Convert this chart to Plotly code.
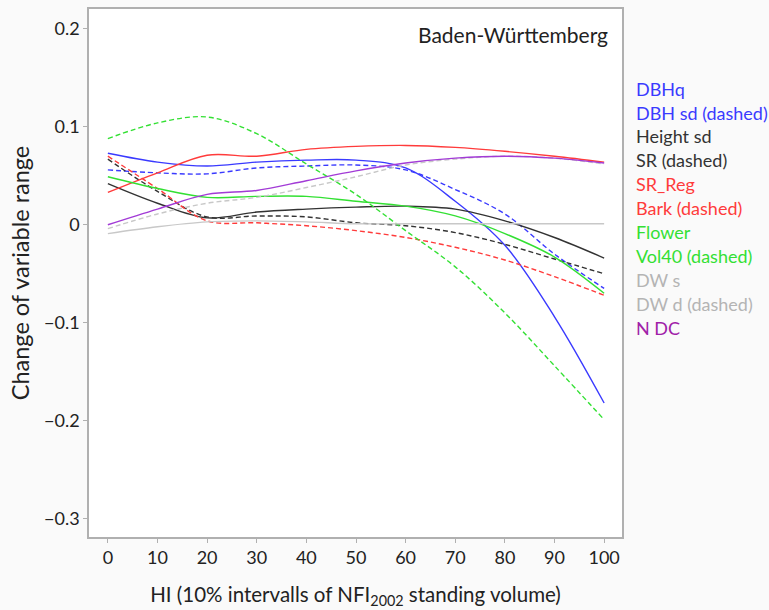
import plotly.graph_objects as go

hi = [0, 10, 20, 30, 40, 50, 60, 70, 80, 90, 100]

dbhq      = [0.073, 0.064, 0.060, 0.064, 0.066, 0.066, 0.058, 0.024, -0.021, -0.094, -0.182]
dbh_sd    = [0.056, 0.053, 0.052, 0.058, 0.060, 0.061, 0.056, 0.036, 0.011, -0.030, -0.065]
height_sd = [0.042, 0.022, 0.007, 0.013, 0.016, 0.018, 0.019, 0.016, 0.004, -0.013, -0.034]
sr        = [0.067, 0.034, 0.008, 0.009, 0.008, 0.002, -0.001, -0.008, -0.020, -0.035, -0.050]
sr_reg    = [0.033, 0.053, 0.071, 0.070, 0.077, 0.080, 0.081, 0.079, 0.075, 0.070, 0.064]
bark      = [0.070, 0.037, 0.004, 0.002, -0.001, -0.006, -0.013, -0.023, -0.036, -0.053, -0.072]
flower    = [0.049, 0.037, 0.028, 0.029, 0.029, 0.024, 0.019, 0.009, -0.009, -0.033, -0.070]
vol40     = [0.088, 0.104, 0.110, 0.093, 0.062, 0.031, -0.006, -0.043, -0.090, -0.144, -0.199]
dw_s      = [-0.009, -0.002, 0.003, 0.004, 0.003, 0.001, 0.001, 0.001, 0.001, 0.001, 0.001]
dw_d      = [-0.004, 0.011, 0.022, 0.028, 0.038, 0.049, 0.061, 0.067, 0.070, 0.068, 0.062]
n_dc      = [0.000, 0.016, 0.031, 0.035, 0.045, 0.055, 0.063, 0.068, 0.070, 0.068, 0.063]

y_ticks = [0.2, 0.1, 0, -0.1, -0.2, -0.3]
y_tick_labels = ["0.2", "0.1", "0", "\u22120.1", "\u22120.2", "\u22120.3"]
x_ticks = hi

BLUE = "#3a3aff"
BLACK = "#333333"
RED = "#ff3b3b"
GREEN = "#33e033"
GRAY = "#c8c8c8"
PURPLE = "#a23bd6"

series = [
    ("DBHq", dbhq, BLUE, "solid"),
    ("DBH sd (dashed)", dbh_sd, BLUE, "dash"),
    ("Height sd", height_sd, BLACK, "solid"),
    ("SR (dashed)", sr, BLACK, "dash"),
    ("SR_Reg", sr_reg, RED, "solid"),
    ("Bark (dashed)", bark, RED, "dash"),
    ("Flower", flower, GREEN, "solid"),
    ("Vol40 (dashed)", vol40, GREEN, "dash"),
    ("DW s", dw_s, GRAY, "solid"),
    ("DW d (dashed)", dw_d, GRAY, "dash"),
    ("N DC", n_dc, PURPLE, "solid"),
]
legend_colors = [BLUE, BLUE, BLACK, BLACK, RED, RED, GREEN, GREEN, "#b4b4b4", "#b4b4b4", "#a020a8"]

FONT = "Lato"

fig = go.Figure()
for name, vals, col, dash in series:
    fig.add_trace(go.Scatter(
        x=hi, y=vals, mode="lines", name=name,
        line=dict(color=col, width=1.4, dash="5px,3px" if dash == "dash" else "solid",
                  shape="spline", smoothing=1.0),
        showlegend=False,
    ))

# legend as text
W, H = 769, 610
L, R, T, B = 89, 147, 7, 72
pw, ph = W - L - R, H - T - B
for i, ((name, _, _, _), lc) in enumerate(zip(series, legend_colors)):
    py = 87 + i * 24.1
    fig.add_annotation(
        x=(634 - L) / pw, y=(H - B - py) / ph, xref="paper", yref="paper",
        text=name, showarrow=False, xanchor="left", yanchor="middle",
        font=dict(family=FONT, size=18, color=lc),
    )

fig.add_annotation(
    x=(610 - L) / pw, y=(H - B - 33) / ph, xref="paper", yref="paper",
    text="Baden-Württemberg", showarrow=False, xanchor="right", yanchor="middle",
    font=dict(family=FONT, size=21, color="#222222"),
)

fig.update_layout(
    width=W, height=H,
    margin=dict(l=L, r=R, t=T, b=B),
    paper_bgcolor="#fafafa",
    plot_bgcolor="#ffffff",
    font=dict(family=FONT, size=18, color="#222222"),
    xaxis=dict(
        range=[-3.8, 103.6], tickvals=x_ticks, ticks="outside", ticklen=4,
        tickcolor="#b0b0b0", showgrid=False, zeroline=False,
        showline=True, mirror=True, linecolor="#b0b0b0", linewidth=1.5,
        tickfont=dict(size=18),
        title=dict(text="HI (10% intervalls of NFI<sub>2002</sub> standing volume)",
                   font=dict(size=20.5), standoff=20),
    ),
    yaxis=dict(
        range=[-0.3188, 0.2203], tickvals=y_ticks, ticktext=y_tick_labels,
        ticks="outside", ticklen=4, tickcolor="#b0b0b0",
        showgrid=False, zeroline=False,
        showline=True, mirror=True, linecolor="#b0b0b0", linewidth=1.5,
        tickfont=dict(size=18),
        title=dict(text="Change of variable range", font=dict(size=23.5), standoff=8),
    ),
)

fig.write_html("out.html")
